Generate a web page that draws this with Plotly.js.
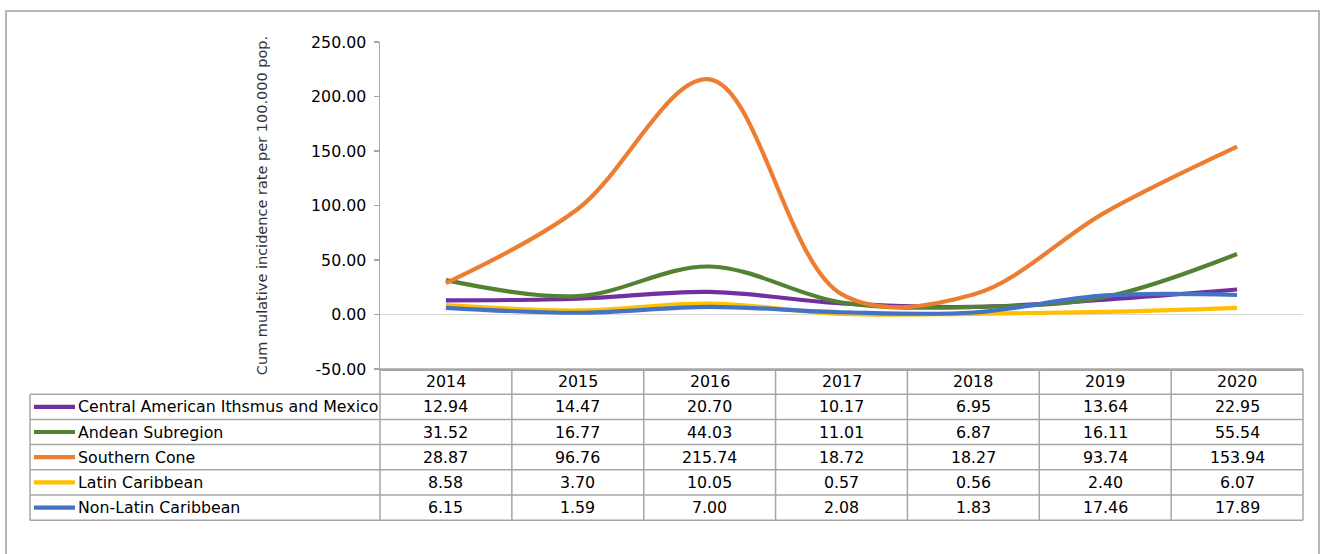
<!DOCTYPE html>
<html>
<head>
<meta charset="utf-8">
<script src="https://cdn.plot.ly/plotly-3.0.1.min.js"></script>
<style>html,body{margin:0;padding:0;background:#fff;}#chart{width:1320px;height:554px;}</style>
</head>
<body>
<div id="chart"></div>
<script>
// ---- data ----
var years = ['2014', '2015', '2016', '2017', '2018', '2019', '2020'];
var seriesNames = ['Central American Ithsmus and Mexico', 'Andean Subregion', 'Southern Cone', 'Latin Caribbean', 'Non-Latin Caribbean'];
var centralAmerica = [12.94, 14.47, 20.70, 10.17, 6.95, 13.64, 22.95];
var andean = [31.52, 16.77, 44.03, 11.01, 6.87, 16.11, 55.54];
var southernCone = [28.87, 96.76, 215.74, 18.72, 18.27, 93.74, 153.94];
var latinCaribbean = [8.58, 3.70, 10.05, 0.57, 0.56, 2.40, 6.07];
var nonLatinCaribbean = [6.15, 1.59, 7.00, 2.08, 1.83, 17.46, 17.89];
var yTickVals = [-50, 0, 50, 100, 150, 200, 250];
var yTitle = 'Cum mulative incidence rate per 100.000 pop.';

// ---- styling ----
var colors = ['#7030A0', '#548235', '#ED7D31', '#FFC000', '#4472C4'];
var allSeries = [centralAmerica, andean, southernCone, latinCaribbean, nonLatinCaribbean];
var W = 1320, H = 554;
var mL = 380, mR = 17, mT = 42, mB = 185;
var plotW = W - mL - mR, plotH = H - mT - mB;
var gridColor = '#a6a6a6';
var font = 'DejaVu Sans, Verdana, sans-serif';
var fs = 15.8;

function px2x(p) { return (p - mL) / plotW; }
function py2y(p) { return (H - mB - p) / plotH; }

var traces = allSeries.map(function (vals, i) {
  return {
    type: 'scatter', mode: 'lines', name: seriesNames[i],
    x: years, y: vals,
    line: {color: colors[i], width: 4.2, shape: 'spline', smoothing: 1},
    hoverinfo: 'x+y+name'
  };
});

// table geometry (pixels)
var tableLeft = 30;
var headerTop = H - mB, rowH = 25.2;
var rowTops = [];
for (var r = 0; r <= allSeries.length + 1; r++) rowTops.push(headerTop + r * rowH);
var tableBottom = rowTops[rowTops.length - 1];

var shapes = [];
var lineStyle = {color: gridColor, width: 1.5};
// outer frame
shapes.push({type: 'rect', xref: 'paper', yref: 'paper', x0: px2x(6), x1: px2x(1319), y0: py2y(11), y1: py2y(560), line: {color: '#a0a0a0', width: 1.5}, fillcolor: 'rgba(0,0,0,0)'});
// horizontal lines
for (var r = 1; r < rowTops.length; r++) {
  shapes.push({type: 'line', xref: 'paper', yref: 'paper', x0: px2x(tableLeft), x1: 1, y0: py2y(rowTops[r]), y1: py2y(rowTops[r]), line: lineStyle});
}
shapes.push({type: 'line', xref: 'paper', yref: 'paper', x0: 0, x1: 1, y0: py2y(headerTop), y1: py2y(headerTop), line: lineStyle});
shapes.push({type: 'line', xref: 'paper', yref: 'paper', x0: px2x(tableLeft), x1: px2x(tableLeft), y0: py2y(rowTops[1]), y1: py2y(tableBottom), line: lineStyle});
for (var c = 0; c <= years.length; c++) {
  shapes.push({type: 'line', xref: 'paper', yref: 'paper', x0: c / years.length, x1: c / years.length, y0: py2y(headerTop), y1: py2y(tableBottom), line: lineStyle});
}
// legend line samples
seriesNames.forEach(function (n, i) {
  var yc = py2y((rowTops[i + 1] + rowTops[i + 2]) / 2);
  shapes.push({type: 'line', xref: 'paper', yref: 'paper', x0: px2x(34), x1: px2x(75), y0: yc, y1: yc, line: {color: colors[i], width: 4.2}});
});

var annotations = [];
var tfont = {family: font, size: fs, color: '#000'};
years.forEach(function (yr, c) {
  annotations.push({xref: 'x', yref: 'paper', x: c, y: py2y((rowTops[0] + rowTops[1]) / 2), text: yr, showarrow: false, xanchor: 'center', yanchor: 'middle', font: tfont});
});
seriesNames.forEach(function (n, i) {
  var yc = py2y((rowTops[i + 1] + rowTops[i + 2]) / 2);
  annotations.push({xref: 'paper', yref: 'paper', x: px2x(76), y: yc, text: n, showarrow: false, xanchor: 'left', yanchor: 'middle', font: tfont});
  allSeries[i].forEach(function (v, c) {
    annotations.push({xref: 'x', yref: 'paper', x: c, y: yc, text: v.toFixed(2), showarrow: false, xanchor: 'center', yanchor: 'middle', font: tfont});
  });
});

var layout = {
  width: W, height: H,
  margin: {l: mL, r: mR, t: mT, b: mB},
  paper_bgcolor: '#fff', plot_bgcolor: '#fff',
  showlegend: false,
  font: {family: font, size: fs, color: '#000'},
  xaxis: {
    type: 'category', range: [-0.5, 6.5], showticklabels: false, ticks: '',
    showgrid: false, zeroline: false, showline: true, linecolor: gridColor, linewidth: 1.5, fixedrange: true
  },
  yaxis: {
    range: [-50, 250], tickmode: 'array', tickvals: yTickVals,
    ticktext: yTickVals.map(function (v) { return v.toFixed(2); }),
    showgrid: false, zeroline: true, zerolinecolor: '#d9d9d9', zerolinewidth: 1,
    showline: true, linecolor: gridColor, linewidth: 1.5,
    ticks: 'outside', ticklen: 5, tickcolor: gridColor, tickwidth: 1.5,
    tickfont: {family: font, size: fs, color: '#000'},
    ticklabelstandoff: 4,
    title: {text: yTitle, font: {family: font, size: 14.5, color: '#333'}, standoff: 40},
    fixedrange: true
  },
  shapes: shapes,
  annotations: annotations
};

Plotly.newPlot('chart', traces, layout, {displayModeBar: false, staticPlot: true});
</script>
</body>
</html>
